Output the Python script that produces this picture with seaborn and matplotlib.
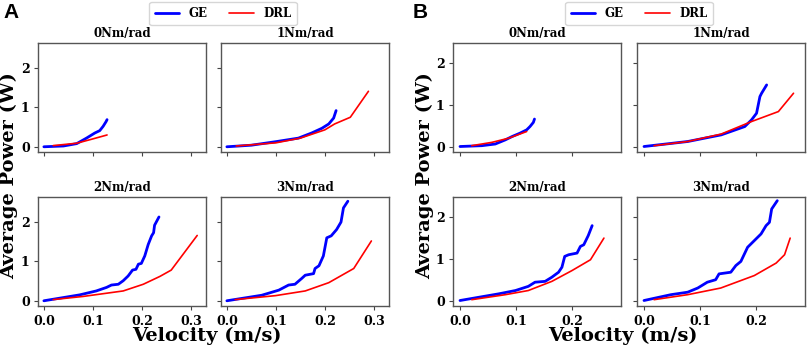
import seaborn as sns
import pandas as pd
import matplotlib.pyplot as plt

sns.set_style("ticks")
plt.rcParams['font.family'] = ['DejaVu Serif']
plt.rcParams['font.weight'] = 'bold'
plt.rcParams['text.color'] = 'black'
plt.rcParams['axes.labelcolor'] = 'black'

stiffness = ["0Nm/rad", "1Nm/rad", "2Nm/rad", "3Nm/rad"]

# ---- panel A ----
a_ge_x = [
    [0.0, 0.04, 0.067, 0.087, 0.104, 0.114, 0.121, 0.127, 0.129],
    [0.0, 0.05, 0.1, 0.146, 0.173, 0.194, 0.208, 0.218, 0.223],
    [0.0, 0.073, 0.107, 0.128, 0.138, 0.152, 0.162, 0.172, 0.181, 0.188, 0.193, 0.199, 0.206, 0.213, 0.22, 0.224, 0.226, 0.235],
    [0.0, 0.071, 0.106, 0.126, 0.139, 0.153, 0.16, 0.177, 0.18, 0.188, 0.197, 0.204, 0.213, 0.224, 0.233, 0.238, 0.247],
]
a_ge_y = [
    [0.0, 0.02, 0.08, 0.22, 0.35, 0.41, 0.52, 0.64, 0.69],
    [0.0, 0.04, 0.13, 0.22, 0.35, 0.47, 0.58, 0.73, 0.92],
    [0.0, 0.15, 0.25, 0.34, 0.4, 0.42, 0.51, 0.63, 0.78, 0.8, 0.93, 0.95, 1.14, 1.43, 1.65, 1.73, 1.92, 2.13],
    [0.0, 0.14, 0.27, 0.4, 0.42, 0.57, 0.65, 0.69, 0.82, 0.89, 1.14, 1.6, 1.65, 1.81, 2.0, 2.36, 2.53],
]
a_drl_x = [
    [0.019, 0.067, 0.097, 0.129],
    [0.019, 0.1, 0.15, 0.2, 0.22, 0.252, 0.289],
    [0.019, 0.08, 0.162, 0.203, 0.237, 0.26, 0.313],
    [0.017, 0.099, 0.16, 0.208, 0.259, 0.295],
]
a_drl_y = [
    [0.03, 0.09, 0.19, 0.3],
    [0.02, 0.1, 0.22, 0.43, 0.58, 0.75, 1.41],
    [0.03, 0.11, 0.25, 0.42, 0.62, 0.78, 1.66],
    [0.03, 0.13, 0.25, 0.46, 0.82, 1.52],
]

# ---- panel B ----
b_ge_x = [
    [0.0, 0.039, 0.063, 0.081, 0.093, 0.107, 0.119, 0.125, 0.131, 0.133],
    [0.0, 0.078, 0.138, 0.18, 0.192, 0.201, 0.207, 0.21, 0.219],
    [0.0, 0.069, 0.099, 0.122, 0.134, 0.152, 0.164, 0.176, 0.182, 0.187, 0.194, 0.209, 0.215, 0.221, 0.229, 0.236],
    [0.0, 0.048, 0.078, 0.096, 0.113, 0.128, 0.134, 0.155, 0.164, 0.173, 0.185, 0.194, 0.209, 0.218, 0.224, 0.228, 0.238],
]
b_ge_y = [
    [0.0, 0.02, 0.06, 0.16, 0.24, 0.32, 0.4, 0.48, 0.58, 0.66],
    [0.0, 0.12, 0.28, 0.48, 0.64, 0.8, 1.2, 1.28, 1.48],
    [0.0, 0.16, 0.24, 0.34, 0.44, 0.46, 0.56, 0.68, 0.8, 1.06, 1.1, 1.14, 1.3, 1.34, 1.56, 1.8],
    [0.0, 0.14, 0.2, 0.3, 0.44, 0.5, 0.64, 0.68, 0.84, 0.94, 1.28, 1.4, 1.6, 1.8, 1.88, 2.2, 2.4],
]
b_drl_x = [
    [0.021, 0.057, 0.087, 0.119],
    [0.018, 0.078, 0.138, 0.192, 0.24, 0.267],
    [0.021, 0.081, 0.122, 0.164, 0.2, 0.233, 0.257],
    [0.018, 0.078, 0.137, 0.197, 0.236, 0.251, 0.261],
]
b_drl_y = [
    [0.02, 0.1, 0.2, 0.36],
    [0.02, 0.12, 0.3, 0.6, 0.84, 1.28],
    [0.02, 0.14, 0.24, 0.46, 0.72, 0.98, 1.5],
    [0.02, 0.14, 0.3, 0.6, 0.9, 1.1, 1.5],
]

W, H = 809, 349
fig = plt.figure(figsize=(W / 100, H / 100), dpi=100)

col_px = [[38, 221], [453, 637]]
row_px = [42.5, 196.5]
ax_w, ax_h = 168, 109


def make_df(gx, gy, dx, dy):
    rows = []
    for i, name in enumerate(stiffness):
        for x, y in zip(gx[i], gy[i]):
            rows.append([name, "GE", x, y])
        for x, y in zip(dx[i], dy[i]):
            rows.append([name, "DRL", x, y])
    return pd.DataFrame(rows, columns=["k", "method", "v", "p"])


panels = [
    ("A", make_df(a_ge_x, a_ge_y, a_drl_x, a_drl_y), (-0.012, 0.331), (-0.12, 2.65), [0.0, 0.1, 0.2, 0.3]),
    ("B", make_df(b_ge_x, b_ge_y, b_drl_x, b_drl_y), (-0.0125, 0.2875), (-0.12, 2.5), [0.0, 0.1, 0.2]),
]

for p, (letter, df, xl, yl, xt) in enumerate(panels):
    axes = []
    for i, name in enumerate(stiffness):
        r, c = divmod(i, 2)
        left = col_px[p][c] / W
        bottom = 1 - (row_px[r] + ax_h) / H
        ax = fig.add_axes([left, bottom, ax_w / W, ax_h / H])
        sub = df[df.k == name]
        sns.lineplot(data=sub[sub.method == "GE"], x="v", y="p", color="blue",
                     linewidth=2.0, sort=False, estimator=None, ax=ax, label="GE")
        sns.lineplot(data=sub[sub.method == "DRL"], x="v", y="p", color="red",
                     linewidth=1.2, sort=False, estimator=None, ax=ax, label="DRL")
        ax.set_xlim(*xl)
        ax.set_ylim(*yl)
        ax.set_xticks(xt)
        ax.set_yticks([0, 1, 2])
        ax.set_title(name, fontsize=8.5, fontweight="bold", pad=4, color="black")
        ax.set_xlabel("")
        ax.set_ylabel("")
        ax.tick_params(labelsize=9, length=3, width=0.8, colors="#444444", labelcolor="black")
        ax.tick_params(axis="y", pad=3)
        if c == 1:
            ax.tick_params(labelleft=False)
        if r == 0:
            ax.tick_params(labelbottom=False)
        for s in ax.spines.values():
            s.set_color("#555555")
            s.set_linewidth(1.0)
        ax.get_legend().remove()
        axes.append(ax)
        for lab in ax.get_xticklabels() + ax.get_yticklabels():
            lab.set_fontweight("bold")

    handles, labels = axes[0].get_legend_handles_labels()
    cx = [223, 639][p] / W
    fig.legend(handles, labels, loc="center", bbox_to_anchor=(cx, 1 - 13.5 / H), ncol=2,
               prop={"size": 8.5, "weight": "bold"}, frameon=True, handlelength=2.1,
               columnspacing=1.8, borderpad=0.45, fancybox=True, edgecolor="#cccccc")
    x0 = [3, 413][p] / W
    fig.text(x0, 1 - 3 / H, letter, fontsize=15, fontweight="bold", family="Liberation Sans",
             ha="left", va="top", color="black")
    fig.text([9, 425][p] / W, 1 - 176 / H, "Average Power (W)", rotation=90, fontsize=14,
             fontweight="bold", ha="center", va="center", color="black")
    fig.text([207, 623][p] / W, 1 - 336 / H, "Velocity (m/s)", fontsize=14,
             fontweight="bold", ha="center", va="center", color="black")

plt.savefig("out.png", dpi=100)
